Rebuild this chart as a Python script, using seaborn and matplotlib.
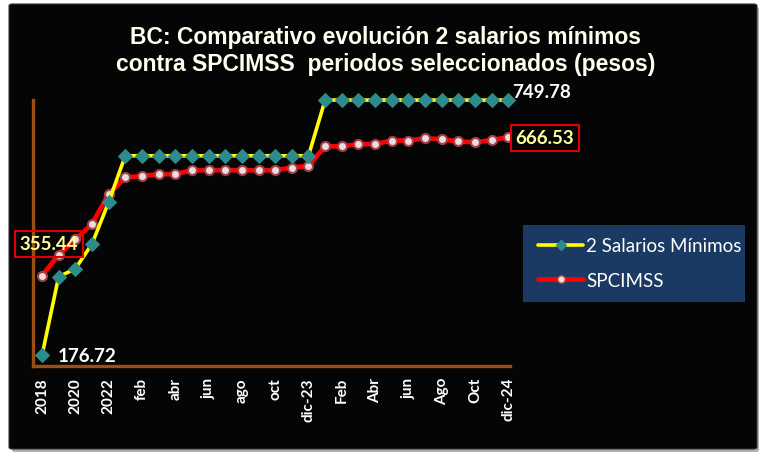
import matplotlib
matplotlib.use("Agg")
import matplotlib.pyplot as plt
import seaborn as sns
import numpy as np
from matplotlib.patches import FancyBboxPatch, Rectangle
from matplotlib.lines import Line2D

periodos = ["2018", "2019", "2020", "2021", "2022",
            "ene", "feb", "mar", "abr", "may", "jun", "jul", "ago", "sep", "oct", "nov", "dic-23",
            "Ene", "Feb", "Mar", "Abr", "May", "jun", "Jul", "Ago", "Sep", "Oct", "Nov", "dic-24"]

salarios = [176.72, 353.44, 371.12, 426.78, 520.68] + [624.82] * 12 + [749.78] * 12

spcimss = [355.44, 402.8, 437.0, 471.5, 538.7,
           576.1, 579.7, 583.5, 583.5, 592.4, 592.4, 592.4, 592.4, 592.4, 592.4, 598.4, 602.1,
           646.0, 646.0, 651.0, 651.0, 659.0, 659.0, 664.0, 662.0, 657.0, 655.0, 660.0, 666.53]

series_names = ["2 Salarios Mínimos", "SPCIMSS"]

W, H = 767, 464
sns.set_style("white")
plt.rcParams["font.family"] = ["Lato", "DejaVu Sans"]

fig = plt.figure(figsize=(W / 100, H / 100), dpi=100)
fig.patch.set_facecolor("white")

# black panel with a soft shadow
shadow = FancyBboxPatch((12 / W, 1 - 453 / H), 747 / W, 445 / H,
                        boxstyle="round,pad=0,rounding_size=0.004",
                        transform=fig.transFigure, facecolor="#b0b0b0", edgecolor="none", zorder=-3)
panel = FancyBboxPatch((9 / W, 1 - 450 / H), 748 / W, 445 / H,
                       boxstyle="round,pad=0,rounding_size=0.004",
                       transform=fig.transFigure, facecolor="#050505", edgecolor="#333333",
                       linewidth=0.8, zorder=-2)
fig.patches.extend([shadow, panel])

ax = fig.add_axes([33 / W, 1 - 367 / H, (510 - 33) / W, (367 - 101) / H])
ax.set_facecolor("none")
ax.set_zorder(2)

x = np.arange(len(periodos))
sns.lineplot(x=x, y=salarios, ax=ax, color="#FFFF00", linewidth=2.6,
             marker="D", markersize=7, markerfacecolor="#2E8B8B", markeredgecolor="#2E8B8B",
             clip_on=False, zorder=3)
sns.lineplot(x=x, y=spcimss, ax=ax, color="#FF0000", linewidth=3.4,
             marker="o", markersize=6.5, markerfacecolor="#F2DCDB", markeredgecolor="#A0404A",
             markeredgewidth=1.5, clip_on=False, zorder=2)

ax.set_xlim(-0.54, 28.1)
ax.set_ylim(153, 750)
ax.set_yticks([])
ax.set_xticks(x[::2])
ax.set_xticklabels(periodos[::2], rotation=90, color="white", fontweight="bold", fontsize=11)
ax.tick_params(axis="x", length=0, pad=8)
for s in ["top", "right"]:
    ax.spines[s].set_visible(False)
for s in ["left", "bottom"]:
    ax.spines[s].set_color("#9C4F14")
    ax.spines[s].set_linewidth(2.4)

fig.text(386 / W, 1 - 51 / H, "BC: Comparativo evolución 2 salarios mínimos\ncontra SPCIMSS  periodos seleccionados (pesos)",
         ha="center", va="center", color="#FFFFF0", fontweight="bold", fontsize=16.5,
         family=["Liberation Sans Narrow", "Liberation Sans", "DejaVu Sans"], linespacing=1.2)

fig.text(58 / W, 1 - 356 / H, "176.72", ha="left", va="center", color="white",
         fontweight="bold", fontsize=13.5, zorder=5)
fig.text(512 / W, 1 - 93 / H, "749.78", ha="left", va="center", color="white",
         fontweight="bold", fontsize=13.5, zorder=5)
fig.text(49 / W, 1 - 245 / H, "355.44", ha="center", va="center", color="#FFFF99",
         fontweight="bold", fontsize=13.5, zorder=5,
         bbox=dict(boxstyle="square,pad=0.25", facecolor="none", edgecolor="#E00000", linewidth=1.5))
fig.text(545 / W, 1 - 139 / H, "666.53", ha="center", va="center", color="#FFFF99",
         fontweight="bold", fontsize=13.5, zorder=5,
         bbox=dict(boxstyle="square,pad=0.25", facecolor="#050505", edgecolor="#E00000", linewidth=1.5))

# legend box
fig.patches.append(Rectangle((523 / W, 1 - 303 / H), 222 / W, 77 / H, transform=fig.transFigure,
                             facecolor="#1B3A63", edgecolor="none", zorder=1))
handles = [
    Line2D([], [], color="#FFFF00", linewidth=2.6, marker="D", markersize=5,
           markerfacecolor="#2E8B8B", markeredgecolor="#2E8B8B"),
    Line2D([], [], color="#FF0000", linewidth=3.4, marker="o", markersize=5.5,
           markerfacecolor="#F2DCDB", markeredgecolor="#A0404A"),
]
leg = fig.legend(handles, series_names, loc="center left", bbox_to_anchor=(529 / W, 1 - 264 / H),
                 frameon=False, handlelength=2.4, handletextpad=0.15, labelspacing=0.95,
                 borderpad=0, fontsize=13.5)
leg.set_zorder(6)
for t in leg.get_texts():
    t.set_color("white")

fig.savefig("out.png", dpi=100)
